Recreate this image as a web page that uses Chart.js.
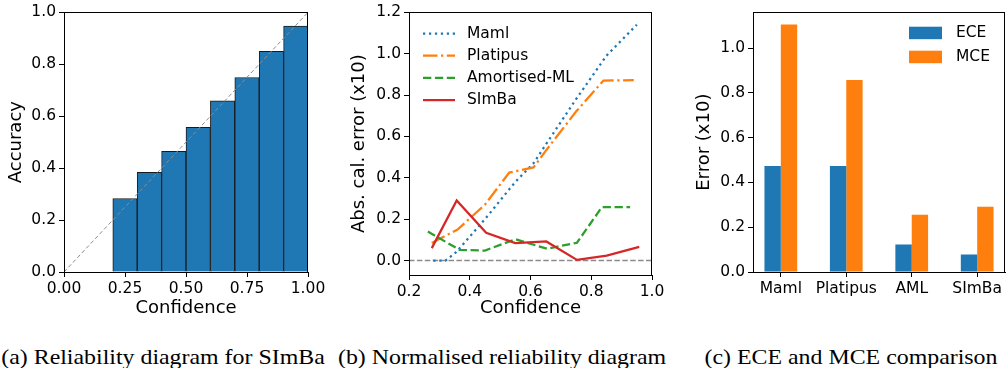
<!DOCTYPE html>
<html>
<head>
<meta charset="utf-8">
<script src="https://cdn.jsdelivr.net/npm/chart.js@4.4.1/dist/chart.umd.min.js"></script>
<style>
  body { margin: 0; background: #fff; }
  #page { position: relative; width: 1007px; height: 368px; overflow: hidden; }
  canvas { position: absolute; top: 0; }
  .cap { position: absolute; top: 345px; width: 360px; text-align: center;
         font-family: "Liberation Serif", serif; font-size: 22px; line-height: 24px;
         white-space: nowrap; transform: scaleX(1.085); color: #000; }
</style>
</head>
<body>
<div id="page">
  <canvas id="rel" width="330" height="323" style="left:0px"></canvas>
  <canvas id="norm" width="329" height="323" style="left:343px"></canvas>
  <canvas id="cmp" width="319" height="310" style="left:688px"></canvas>
  <div class="cap" style="left:-17px">(a) Reliability diagram for SImBa</div>
  <div class="cap" style="left:322px">(b) Normalised reliability diagram</div>
  <div class="cap" style="left:671px">(c) ECE and MCE comparison</div>
</div>
<script>
// (a) reliability diagram
var binCenters = [0.25, 0.35, 0.45, 0.55, 0.65, 0.75, 0.85, 0.95];
var binAccuracy = [0.283, 0.384, 0.465, 0.557, 0.659, 0.749, 0.85, 0.947];

// (b) normalised reliability diagram
var mamlConf = [0.28, 0.32, 0.355, 0.45, 0.55, 0.61, 0.65, 0.75, 0.85, 0.95];
var mamlErr = [0.0, 0.0, 0.04, 0.2, 0.38, 0.47, 0.56, 0.78, 0.99, 1.14];
var platipusConf = [0.275, 0.36, 0.45, 0.53, 0.61, 0.65, 0.75, 0.84, 0.94];
var platipusErr = [0.085, 0.15, 0.27, 0.425, 0.45, 0.53, 0.72, 0.87, 0.872];
var amlConf = [0.262, 0.366, 0.45, 0.55, 0.654, 0.753, 0.835, 0.928];
var amlErr = [0.14, 0.052, 0.048, 0.103, 0.057, 0.086, 0.258, 0.258];
var simbaConf = [0.275, 0.357, 0.454, 0.55, 0.652, 0.753, 0.851, 0.958];
var simbaErr = [0.06, 0.29, 0.134, 0.084, 0.092, 0.003, 0.024, 0.066];

// (c) ECE / MCE comparison
var methods = ['Maml', 'Platipus', 'AML', 'SImBa'];
var ece = [0.473, 0.473, 0.123, 0.078];
var mce = [1.106, 0.858, 0.256, 0.291];

Chart.defaults.font.family = '"DejaVu Sans", sans-serif';
Chart.defaults.font.size = 15.5;
Chart.defaults.color = '#000';
Chart.defaults.animation = false;

function pts(xs, ys) {
    return xs.map(function (x, i) { return {x: x, y: ys[i]}; });
}

// box round the plot area, like matplotlib spines
var frame = {
    id: 'frame',
    afterDraw: function (chart) {
        var a = chart.chartArea, ctx = chart.ctx;
        ctx.save();
        ctx.strokeStyle = '#000';
        ctx.lineWidth = 1;
        ctx.strokeRect(Math.round(a.left) + 0.5, Math.round(a.top) + 0.5,
            Math.round(a.right - a.left) - 1, Math.round(a.bottom - a.top));
        ctx.restore();
    }
};

// legend drawn inside the axes
var innerLegend = {
    id: 'innerLegend',
    afterDraw: function (chart, args, o) {
        var ctx = chart.ctx;
        var y = o.y;
        ctx.save();
        ctx.font = '15.5px "DejaVu Sans"';
        ctx.textBaseline = 'middle';
        chart.data.datasets.forEach(function (ds) {
            if (!ds.label) return;
            if (o.box) {
                ctx.fillStyle = ds.backgroundColor;
                ctx.fillRect(o.x, y - 6, o.w, 12.5);
            } else {
                ctx.strokeStyle = ds.borderColor;
                ctx.lineWidth = ds.borderWidth;
                ctx.setLineDash(ds.borderDash || []);
                ctx.beginPath();
                ctx.moveTo(o.x, y);
                ctx.lineTo(o.x + o.w, y);
                ctx.stroke();
                ctx.setLineDash([]);
            }
            ctx.fillStyle = '#000';
            ctx.fillText(ds.label, o.x + o.w + o.gap, y);
            y += o.step;
        });
        ctx.restore();
    }
};

function axis(extra) {
    var base = {
        type: 'linear',
        offset: false,
        border: {display: true, color: '#000', width: 1},
        grid: {drawOnChartArea: false, color: '#000', tickLength: 5, offset: false},
        ticks: {padding: 3, includeBounds: false}
    };
    return Object.assign(base, extra);
}

new Chart(document.getElementById('rel'), {
    type: 'bar',
    data: {
        datasets: [
            {
                type: 'line',
                data: [{x: 0, y: 0}, {x: 1, y: 1}],
                borderColor: '#8c8c8c',
                borderWidth: 1,
                borderDash: [4, 2.5],
                pointRadius: 0,
                order: 0
            },
            {
                type: 'bar',
                data: pts(binCenters, binAccuracy),
                backgroundColor: '#1f77b4',
                borderColor: '#1a1a1a',
                borderWidth: 1,
                barPercentage: 1,
                categoryPercentage: 1,
                order: 1
            }
        ]
    },
    options: {
        responsive: false,
        layout: {padding: {left: 2, top: 12, right: 22, bottom: 0}},
        plugins: {legend: {display: false}, tooltip: {enabled: false}},
        scales: {
            x: axis({
                min: 0, max: 1,
                ticks: {padding: 3, includeBounds: false, stepSize: 0.25,
                    callback: function (v) { return v.toFixed(2); }},
                title: {display: true, text: 'Confidence', font: {size: 18}},
                afterFit: function (s) { s.height = 51; }
            }),
            y: axis({
                min: 0, max: 1,
                ticks: {padding: 3, includeBounds: false, stepSize: 0.2,
                    callback: function (v) { return v.toFixed(1); }},
                title: {display: true, text: 'Accuracy', font: {size: 18}},
                afterFit: function (s) { s.width = 62; }
            })
        }
    },
    plugins: [frame]
});

new Chart(document.getElementById('norm'), {
    type: 'line',
    data: {
        datasets: [
            {
                label: 'Maml',
                data: pts(mamlConf, mamlErr),
                borderColor: '#1f77b4',
                borderWidth: 2.25,
                borderDash: [2.25, 3.7],
                order: 4
            },
            {
                label: 'Platipus',
                data: pts(platipusConf, platipusErr),
                borderColor: '#ff7f0e',
                borderWidth: 2.25,
                borderDash: [14.4, 3.6, 2.25, 3.6],
                order: 3
            },
            {
                label: 'Amortised-ML',
                data: pts(amlConf, amlErr),
                borderColor: '#2ca02c',
                borderWidth: 2.25,
                borderDash: [8.3, 3.6],
                order: 2
            },
            {
                label: 'SImBa',
                data: pts(simbaConf, simbaErr),
                borderColor: '#d62728',
                borderWidth: 2.25,
                order: 1
            },
            {
                data: [{x: 0.2, y: 0}, {x: 1.0, y: 0}],
                borderColor: '#8c8c8c',
                borderWidth: 1.5,
                borderDash: [5.5, 2.4],
                order: 5
            }
        ]
    },
    options: {
        responsive: false,
        elements: {point: {radius: 0}, line: {tension: 0, fill: false}},
        layout: {padding: {left: 2, top: 12, right: 20, bottom: 0}},
        plugins: {
            legend: {display: false},
            tooltip: {enabled: false},
            innerLegend: {x: 80, y: 33.5, w: 32, gap: 12, step: 22.2}
        },
        scales: {
            x: axis({
                min: 0.2, max: 1.0,
                ticks: {padding: 3, includeBounds: false, stepSize: 0.2,
                    callback: function (v) { return v.toFixed(1); }},
                title: {display: true, text: 'Confidence', font: {size: 18}},
                afterFit: function (s) { s.height = 48; }
            }),
            y: axis({
                min: -0.07, max: 1.2,
                ticks: {padding: 3, includeBounds: false, stepSize: 0.2,
                    callback: function (v) { return v.toFixed(1); }},
                title: {display: true, text: 'Abs. cal. error (x10)', font: {size: 18}},
                afterFit: function (s) { s.width = 64; }
            })
        }
    },
    plugins: [frame, innerLegend]
});

new Chart(document.getElementById('cmp'), {
    type: 'bar',
    data: {
        datasets: [
            {
                label: 'ECE',
                data: pts(methods.map(function (m, i) { return i; }), ece),
                backgroundColor: '#1f77b4',
                barPercentage: 1,
                categoryPercentage: 0.5
            },
            {
                label: 'MCE',
                data: pts(methods.map(function (m, i) { return i; }), mce),
                backgroundColor: '#ff7f0e',
                barPercentage: 1,
                categoryPercentage: 0.5
            }
        ]
    },
    options: {
        responsive: false,
        layout: {padding: {left: 2, top: 10, right: 2, bottom: 0}},
        plugins: {
            legend: {display: false},
            tooltip: {enabled: false},
            innerLegend: {box: true, x: 221, y: 32.7, w: 33, gap: 14, step: 24}
        },
        scales: {
            x: axis({
                min: -0.425, max: 3.425,
                afterBuildTicks: function (s) {
                    s.ticks = methods.map(function (m, i) { return {value: i}; });
                },
                ticks: {padding: 3, autoSkip: false, maxRotation: 0,
                    callback: function (v) { return methods[v]; }},
                afterFit: function (s) { s.height = 38; }
            }),
            y: axis({
                min: 0, max: 1.16,
                ticks: {padding: 3, includeBounds: false, stepSize: 0.2,
                    callback: function (v) { return v.toFixed(1); }},
                title: {display: true, text: 'Error (x10)', font: {size: 18}},
                afterFit: function (s) { s.width = 63; }
            })
        }
    },
    plugins: [frame, innerLegend]
});
</script>
</body>
</html>
